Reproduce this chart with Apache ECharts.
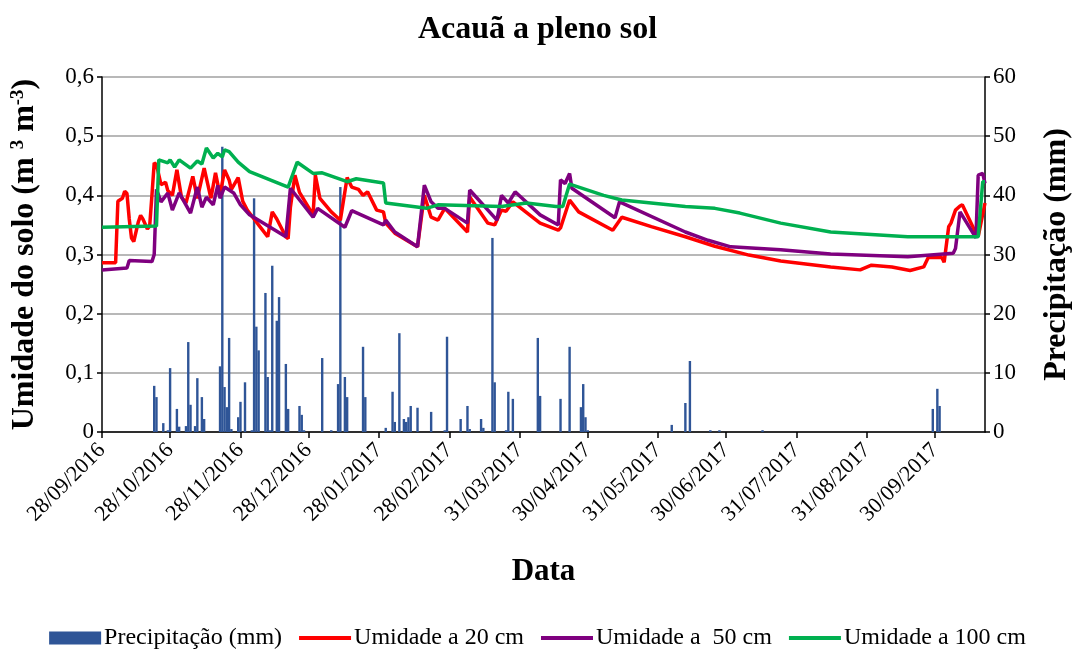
<!DOCTYPE html>
<html>
<head>
<meta charset="utf-8">
<script src="https://cdn.jsdelivr.net/npm/echarts@6/dist/echarts.min.js"></script>
<style>
  html, body { margin: 0; padding: 0; background: #ffffff; }
  #chart { width: 1075px; height: 655px; }
</style>
</head>
<body>
<div id="chart"></div>
<script>
// Time span of the record (x axis runs in days from START)
const START = '2016-09-28';
const END = '2017-10-22';

// Date tick labels along the x axis
const tickDates = ['28/09/2016', '28/10/2016', '28/11/2016', '28/12/2016', '28/01/2017',
  '28/02/2017', '31/03/2017', '30/04/2017', '31/05/2017', '30/06/2017', '31/07/2017',
  '31/08/2017', '30/09/2017'];

// Daily rainfall (mm), rainy days only
const precipitation = [
  ['2016-10-21', 7.8], ['2016-10-22', 5.9], ['2016-10-25', 1.5], ['2016-10-27', 0.3],
  ['2016-10-28', 10.8], ['2016-10-31', 3.9], ['2016-11-01', 0.9], ['2016-11-04', 1.0],
  ['2016-11-05', 15.2], ['2016-11-06', 4.6], ['2016-11-08', 1.0], ['2016-11-09', 9.1],
  ['2016-11-11', 5.9], ['2016-11-12', 2.2], ['2016-11-19', 11.1], ['2016-11-20', 48.2],
  ['2016-11-21', 7.6], ['2016-11-22', 4.2], ['2016-11-23', 15.9], ['2016-11-24', 0.5],
  ['2016-11-27', 2.5], ['2016-11-28', 5.1], ['2016-11-30', 8.4], ['2016-12-03', 0.3],
  ['2016-12-04', 39.5], ['2016-12-05', 17.8], ['2016-12-06', 13.8], ['2016-12-09', 23.5],
  ['2016-12-10', 9.3], ['2016-12-11', 0.3], ['2016-12-12', 28.1], ['2016-12-14', 18.8],
  ['2016-12-15', 22.8], ['2016-12-18', 11.5], ['2016-12-19', 3.9], ['2016-12-24', 4.4],
  ['2016-12-25', 2.9], ['2016-12-26', 0.3], ['2017-01-03', 12.5], ['2017-01-07', 0.3],
  ['2017-01-10', 8.1], ['2017-01-11', 41.4], ['2017-01-13', 9.3], ['2017-01-14', 5.9],
  ['2017-01-21', 14.4], ['2017-01-22', 5.9], ['2017-01-31', 0.7], ['2017-02-03', 6.8],
  ['2017-02-04', 1.7], ['2017-02-06', 16.7], ['2017-02-08', 2.2], ['2017-02-09', 1.7],
  ['2017-02-10', 2.5], ['2017-02-11', 4.4], ['2017-02-14', 4.1], ['2017-02-20', 3.4],
  ['2017-02-26', 0.3], ['2017-02-27', 16.1], ['2017-03-05', 2.2], ['2017-03-08', 4.4],
  ['2017-03-09', 0.5], ['2017-03-14', 2.2], ['2017-03-15', 0.7], ['2017-03-19', 32.8],
  ['2017-03-20', 8.4], ['2017-03-25', 0.3], ['2017-03-26', 6.8], ['2017-03-28', 5.6],
  ['2017-04-08', 15.9], ['2017-04-09', 6.1], ['2017-04-18', 5.6], ['2017-04-22', 14.4],
  ['2017-04-27', 4.2], ['2017-04-28', 8.1], ['2017-04-29', 2.5], ['2017-04-30', 0.3],
  ['2017-06-06', 1.2], ['2017-06-12', 4.9], ['2017-06-14', 12.0], ['2017-06-23', 0.3],
  ['2017-06-27', 0.3], ['2017-07-16', 0.3], ['2017-09-29', 3.9], ['2017-10-01', 7.3],
  ['2017-10-02', 4.4]
];

// Soil moisture at 20 cm (m3 m-3)
const moisture20 = [
  ['2016-09-28', 0.286], ['2016-10-04', 0.286], ['2016-10-05', 0.39], ['2016-10-07', 0.395],
  ['2016-10-08', 0.407], ['2016-10-09', 0.403], ['2016-10-10', 0.36], ['2016-10-11', 0.328],
  ['2016-10-12', 0.322], ['2016-10-14', 0.355], ['2016-10-15', 0.366], ['2016-10-16', 0.36],
  ['2016-10-18', 0.343], ['2016-10-19', 0.348], ['2016-10-20', 0.40], ['2016-10-21', 0.455],
  ['2016-10-22', 0.452], ['2016-10-24', 0.418], ['2016-10-26', 0.422], ['2016-10-27', 0.408],
  ['2016-10-29', 0.40], ['2016-10-31', 0.443], ['2016-11-02', 0.397], ['2016-11-04', 0.387],
  ['2016-11-07', 0.432], ['2016-11-09', 0.395], ['2016-11-12', 0.446], ['2016-11-15', 0.395],
  ['2016-11-17', 0.438], ['2016-11-19', 0.40], ['2016-11-21', 0.443], ['2016-11-23', 0.426],
  ['2016-11-24', 0.41], ['2016-11-27', 0.43], ['2016-11-29', 0.39], ['2016-12-01', 0.375],
  ['2016-12-04', 0.36], ['2016-12-07', 0.345], ['2016-12-10', 0.33], ['2016-12-12', 0.372],
  ['2016-12-14', 0.36], ['2016-12-18', 0.33], ['2016-12-19', 0.327], ['2016-12-20', 0.38],
  ['2016-12-22', 0.434], ['2016-12-24', 0.405], ['2016-12-30', 0.367], ['2016-12-31', 0.434],
  ['2017-01-02', 0.395], ['2017-01-07', 0.372], ['2017-01-11', 0.358], ['2017-01-14', 0.43],
  ['2017-01-16', 0.414], ['2017-01-19', 0.41], ['2017-01-21', 0.40], ['2017-01-23', 0.406],
  ['2017-01-27', 0.375], ['2017-01-30', 0.372], ['2017-01-31', 0.353], ['2017-02-04', 0.336],
  ['2017-02-14', 0.313], ['2017-02-17', 0.40], ['2017-02-20', 0.363], ['2017-02-23', 0.358],
  ['2017-02-26', 0.378], ['2017-03-08', 0.338], ['2017-03-09', 0.397], ['2017-03-17', 0.353],
  ['2017-03-20', 0.35], ['2017-03-23', 0.375], ['2017-03-25', 0.373], ['2017-03-28', 0.389],
  ['2017-04-09', 0.353], ['2017-04-17', 0.341], ['2017-04-18', 0.345], ['2017-04-22', 0.392],
  ['2017-04-26', 0.372], ['2017-05-11', 0.341], ['2017-05-15', 0.363], ['2017-05-28', 0.347],
  ['2017-06-12', 0.33], ['2017-06-25', 0.314], ['2017-07-10', 0.299], ['2017-07-24', 0.289],
  ['2017-08-15', 0.279], ['2017-08-28', 0.274], ['2017-09-02', 0.282], ['2017-09-11', 0.279],
  ['2017-09-19', 0.273], ['2017-09-25', 0.279], ['2017-09-27', 0.295], ['2017-10-03', 0.295],
  ['2017-10-04', 0.287], ['2017-10-06', 0.347], ['2017-10-07', 0.353], ['2017-10-09', 0.375],
  ['2017-10-11', 0.382], ['2017-10-12', 0.384], ['2017-10-15', 0.36], ['2017-10-18', 0.336],
  ['2017-10-19', 0.33], ['2017-10-22', 0.387]
];

// Soil moisture at 50 cm (m3 m-3)
const moisture50 = [
  ['2016-09-28', 0.274], ['2016-10-09', 0.277], ['2016-10-10', 0.29], ['2016-10-20', 0.288],
  ['2016-10-21', 0.30], ['2016-10-22', 0.41], ['2016-10-24', 0.389], ['2016-10-27', 0.404],
  ['2016-10-29', 0.375], ['2016-11-01', 0.404], ['2016-11-06', 0.37], ['2016-11-09', 0.414],
  ['2016-11-11', 0.38], ['2016-11-13', 0.397], ['2016-11-16', 0.384], ['2016-11-18', 0.417],
  ['2016-11-19', 0.395], ['2016-11-21', 0.414], ['2016-11-25', 0.404], ['2016-11-28', 0.384],
  ['2016-12-02', 0.367], ['2016-12-18', 0.33], ['2016-12-20', 0.412], ['2016-12-30', 0.363],
  ['2017-01-01', 0.378], ['2017-01-13', 0.346], ['2017-01-16', 0.374], ['2017-01-30', 0.35],
  ['2017-01-31', 0.358], ['2017-02-04', 0.338], ['2017-02-14', 0.313], ['2017-02-17', 0.417],
  ['2017-02-20', 0.389], ['2017-02-23', 0.378], ['2017-02-26', 0.378], ['2017-03-08', 0.353],
  ['2017-03-09', 0.409], ['2017-03-21', 0.358], ['2017-03-23', 0.40], ['2017-03-26', 0.387],
  ['2017-03-29', 0.406], ['2017-04-09', 0.367], ['2017-04-17', 0.35], ['2017-04-18', 0.426],
  ['2017-04-20', 0.42], ['2017-04-22', 0.437], ['2017-04-23', 0.412], ['2017-05-12', 0.362],
  ['2017-05-14', 0.389], ['2017-06-12', 0.338], ['2017-06-22', 0.324], ['2017-07-02', 0.313],
  ['2017-07-24', 0.308], ['2017-08-15', 0.301], ['2017-09-18', 0.296], ['2017-10-08', 0.302],
  ['2017-10-09', 0.31], ['2017-10-11', 0.372], ['2017-10-18', 0.328], ['2017-10-19', 0.434],
  ['2017-10-21', 0.437], ['2017-10-22', 0.42]
];

// Soil moisture at 100 cm (m3 m-3)
const moisture100 = [
  ['2016-09-28', 0.346], ['2016-10-22', 0.348], ['2016-10-23', 0.46], ['2016-10-27', 0.455],
  ['2016-10-28', 0.46], ['2016-10-30', 0.448], ['2016-11-01', 0.46], ['2016-11-06', 0.446],
  ['2016-11-09', 0.458], ['2016-11-11', 0.453], ['2016-11-13', 0.48], ['2016-11-16', 0.463],
  ['2016-11-18', 0.471], ['2016-11-20', 0.465], ['2016-11-21', 0.477], ['2016-11-23', 0.474],
  ['2016-11-27', 0.456], ['2016-12-02', 0.44], ['2016-12-19', 0.414], ['2016-12-23', 0.456],
  ['2016-12-30', 0.437], ['2017-01-03', 0.438], ['2017-01-14', 0.423], ['2017-01-18', 0.428],
  ['2017-01-30', 0.421], ['2017-01-31', 0.387], ['2017-02-18', 0.378], ['2017-02-23', 0.384],
  ['2017-03-23', 0.381], ['2017-04-03', 0.387], ['2017-04-16', 0.381], ['2017-04-19', 0.381],
  ['2017-04-22', 0.419], ['2017-05-07', 0.40], ['2017-05-15', 0.392], ['2017-06-12', 0.381],
  ['2017-06-25', 0.378], ['2017-07-06', 0.37], ['2017-07-24', 0.353], ['2017-08-15', 0.338],
  ['2017-09-18', 0.33], ['2017-10-19', 0.33], ['2017-10-21', 0.423], ['2017-10-22', 0.423]
];

const FONT = "'Liberation Serif', 'Times New Roman', serif";
const DAY = 86400000;
const dayOf = iso => (Date.parse(iso) - Date.parse(START)) / DAY;
const dmyToIso = s => { const [d, m, y] = s.split('/'); return `${y}-${m}-${d}`; };
const toDays = rows => rows.map(([d, v]) => [dayOf(d), v]);

const tickDays = tickDates.map(s => dayOf(dmyToIso(s)));
const tickLabelOf = {};
tickDays.forEach((d, i) => { tickLabelOf[d] = tickDates[i]; });

// thin bar used as the legend key of the line series
const LINE_KEY = 'path://M0,0 L52,0 L52,4 L0,4 Z';

const chart = echarts.init(document.getElementById('chart'), null, { renderer: 'canvas' });

chart.setOption({
  backgroundColor: '#ffffff',
  animation: false,
  textStyle: { fontFamily: FONT, color: '#000' },
  title: {
    text: 'Acauã a pleno sol',
    left: 'center',
    top: 9,
    textStyle: { fontFamily: FONT, fontSize: 32, fontWeight: 'bold', color: '#000' }
  },
  grid: { left: 102, right: 90, top: 77, bottom: 223, containLabel: false, outerBoundsMode: 'none' },
  legend: {
    bottom: 0,
    left: 'center',
    itemGap: 17,
    itemWidth: 52,
    itemHeight: 13,
    symbolKeepAspect: true,
    textStyle: { fontFamily: FONT, fontSize: 24, color: '#000', padding: [0, 0, 0, -2] },
    data: [
      { name: 'Precipitação (mm)', icon: 'rect' },
      { name: 'Umidade a 20 cm', icon: LINE_KEY },
      { name: 'Umidade a  50 cm', icon: LINE_KEY },
      { name: 'Umidade a 100 cm', icon: LINE_KEY }
    ]
  },
  xAxis: {
    type: 'value',
    min: 0,
    max: dayOf(END),
    name: 'Data',
    nameLocation: 'middle',
    nameGap: 124,
    nameTextStyle: { fontFamily: FONT, fontSize: 31, fontWeight: 'bold', color: '#000' },
    axisLine: { show: true, lineStyle: { color: '#000', width: 1.5 } },
    axisTick: { show: true, length: 6, lineStyle: { color: '#000', width: 1.5 }, customValues: tickDays },
    axisLabel: {
      customValues: tickDays,
      rotate: 45,
      margin: 15,
      fontFamily: FONT,
      fontSize: 22,
      color: '#000',
      formatter: v => tickLabelOf[v] || ''
    },
    splitLine: { show: false }
  },
  yAxis: [
    {
      type: 'value',
      min: 0,
      max: 0.6,
      interval: 0.1,
      name: 'Umidade do solo (m {sup|3} m{sup|-3})',
      nameLocation: 'middle',
      nameRotate: 90,
      nameGap: 61,
      nameTextStyle: {
        fontFamily: FONT, fontSize: 32, fontWeight: 'bold', color: '#000',
        rich: { sup: { fontFamily: FONT, fontSize: 19, fontWeight: 'bold', color: '#000', verticalAlign: 'top' } }
      },
      axisLine: { show: true, lineStyle: { color: '#000', width: 1.5 } },
      axisTick: { show: true, length: 5, lineStyle: { color: '#000', width: 1.5 } },
      axisLabel: {
        fontFamily: FONT, fontSize: 23, color: '#000', margin: 8,
        formatter: v => (v === 0 ? '0' : v.toFixed(1).replace('.', ','))
      },
      splitLine: { show: true, lineStyle: { color: '#a0a0a0', width: 1.5 } }
    },
    {
      type: 'value',
      position: 'right',
      min: 0,
      max: 60,
      interval: 10,
      name: 'Precipitação (mm)',
      nameLocation: 'middle',
      nameRotate: 90,
      nameGap: 56,
      nameTextStyle: { fontFamily: FONT, fontSize: 32, fontWeight: 'bold', color: '#000' },
      axisLine: { show: true, lineStyle: { color: '#000', width: 1.5 } },
      axisTick: { show: true, length: 5, lineStyle: { color: '#000', width: 1.5 } },
      axisLabel: { fontFamily: FONT, fontSize: 23, color: '#000', margin: 8 },
      splitLine: { show: false }
    }
  ],
  series: [
    {
      name: 'Precipitação (mm)',
      type: 'bar',
      yAxisIndex: 1,
      barWidth: 2.4,
      itemStyle: { color: '#2f5597' },
      data: toDays(precipitation)
    },
    {
      name: 'Umidade a 20 cm',
      type: 'line',
      yAxisIndex: 0,
      showSymbol: false,
      symbol: 'none',
      lineStyle: { color: '#ff0000', width: 3.5 },
      itemStyle: { color: '#ff0000' },
      data: toDays(moisture20)
    },
    {
      name: 'Umidade a  50 cm',
      type: 'line',
      yAxisIndex: 0,
      showSymbol: false,
      symbol: 'none',
      lineStyle: { color: '#7f007f', width: 3.5 },
      itemStyle: { color: '#7f007f' },
      data: toDays(moisture50)
    },
    {
      name: 'Umidade a 100 cm',
      type: 'line',
      yAxisIndex: 0,
      showSymbol: false,
      symbol: 'none',
      lineStyle: { color: '#00b050', width: 3.5 },
      itemStyle: { color: '#00b050' },
      data: toDays(moisture100)
    }
  ]
});
</script>
</body>
</html>
